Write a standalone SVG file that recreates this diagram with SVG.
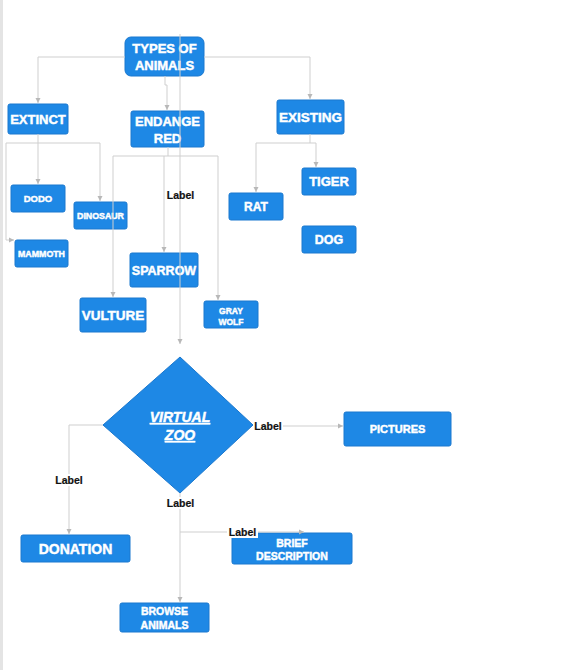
<svg xmlns="http://www.w3.org/2000/svg" width="565" height="670" viewBox="0 0 565 670">
<defs>
<marker id="ar" markerWidth="6" markerHeight="6" refX="5" refY="3" orient="auto" markerUnits="userSpaceOnUse">
<path d="M0,0.5 L5,3 L0,5.5 Z" fill="#b8b8b8"/>
</marker>
<style>
.n{fill:#1e88e5;stroke:#1a78cf;stroke-width:1}
.t{font-family:"Liberation Sans",Arial,sans-serif;font-weight:bold;fill:#ffffff;stroke:#ffffff;stroke-width:0.45;text-anchor:middle}
.c{fill:none;stroke:#cfcfcf;stroke-width:1;marker-end:url(#ar)}
.lb{font-family:"Liberation Sans",Arial,sans-serif;font-weight:bold;font-size:10.5px;fill:#111111;stroke:#111111;stroke-width:0.2;text-anchor:middle}
</style>
</defs>
<rect x="0" y="0" width="565" height="670" fill="#ffffff"/>
<rect x="0" y="0" width="3" height="670" fill="#e4e4e4"/>

<g id="types"><rect class="n" x="125" y="37" width="79" height="39" rx="6"/><text class="t" font-size="13" x="164.5" y="53">TYPES OF</text><text class="t" font-size="13" x="164.5" y="70">ANIMALS</text></g>
<g id="extinct"><rect class="n" x="8" y="104" width="60" height="30" rx="2"/><text class="t" font-size="13" x="38" y="123.5">EXTINCT</text></g>
<g id="endangered"><rect class="n" x="131" y="111" width="73" height="36" rx="2"/><text class="t" font-size="13" x="167.5" y="126">ENDANGE</text><text class="t" font-size="13" x="167.5" y="143">RED</text></g>
<g id="existing"><rect class="n" x="277" y="100" width="67" height="34" rx="2"/><text class="t" font-size="13.5" x="310.5" y="122">EXISTING</text></g>
<g id="dodo"><rect class="n" x="11" y="185" width="54" height="27" rx="2"/><text class="t" font-size="9.5" x="38" y="202">DODO</text></g>
<g id="dinosaur"><rect class="n" x="74" y="202" width="53" height="27" rx="2"/><text class="t" font-size="8.8" x="100.5" y="219">DINOSAUR</text></g>
<g id="mammoth"><rect class="n" x="15" y="240" width="53" height="27" rx="2"/><text class="t" font-size="8.8" x="41.5" y="257">MAMMOTH</text></g>
<g id="sparrow"><rect class="n" x="130" y="253" width="68" height="34" rx="2"/><text class="t" font-size="12.5" x="164" y="274.5">SPARROW</text></g>
<g id="vulture"><rect class="n" x="80" y="298" width="66" height="34" rx="2"/><text class="t" font-size="13.5" x="113" y="320">VULTURE</text></g>
<g id="graywolf"><rect class="n" x="204" y="301" width="54" height="27" rx="2"/><text class="t" font-size="8.5" x="231" y="313.5">GRAY</text><text class="t" font-size="8.5" x="231" y="324.5">WOLF</text></g>
<g id="rat"><rect class="n" x="229" y="193" width="54" height="27" rx="2"/><text class="t" font-size="12" x="256" y="211">RAT</text></g>
<g id="tiger"><rect class="n" x="302" y="168" width="54" height="27" rx="2"/><text class="t" font-size="13" x="329" y="186">TIGER</text></g>
<g id="dog"><rect class="n" x="302" y="226" width="54" height="27" rx="2"/><text class="t" font-size="12.5" x="329" y="244">DOG</text></g>
<g id="virtualzoo"><polygon class="n" points="180,357 253,425 180,493 103,425"/>
<text class="t" font-size="14" font-style="italic" text-decoration="underline" x="180" y="422">VIRTUAL</text>
<text class="t" font-size="14" font-style="italic" text-decoration="underline" x="180" y="440">ZOO</text></g>
<g id="pictures"><rect class="n" x="344" y="412" width="107" height="34" rx="2"/><text class="t" font-size="11" x="397.5" y="433">PICTURES</text></g>
<g id="donation"><rect class="n" x="21" y="535" width="109" height="27" rx="2"/><text class="t" font-size="14" x="75.5" y="553.5">DONATION</text></g>
<g id="brief"><rect class="n" x="232" y="533" width="120" height="31" rx="2"/><text class="t" font-size="10.5" x="292" y="546.5">BRIEF</text><text class="t" font-size="10.5" x="292" y="560">DESCRIPTION</text></g>
<g id="browse"><rect class="n" x="120" y="603" width="89" height="29" rx="2"/><text class="t" font-size="10.5" x="164.5" y="615">BROWSE</text><text class="t" font-size="10.5" x="164.5" y="629">ANIMALS</text></g>

<g id="connectors">
<path class="c" d="M125,57 H38 V103"/>
<path class="c" d="M204,57 H310 V99"/>
<path class="c" d="M165,76 V85 H167 V110"/>
<path class="c" d="M38,134 V184"/>
<path class="c" d="M38,143 H100 V201"/>
<path class="c" d="M38,143 H6 V240 H14"/>
<path class="c" d="M168,147 V156 H113 V297"/>
<path class="c" d="M168,156 H218 V300"/>
<path class="c" d="M164,156 V252"/>
<path class="c" d="M310,134 V143 H256 V192"/>
<path class="c" d="M310,143 H316 V167"/>
<path class="c" d="M180,34 V344"/>
<path class="c" d="M103,425 H69 V534"/>
<path class="c" d="M253,426 H343"/>
<path class="c" d="M180,493 V602"/>
<path class="c" d="M180,532 H304"/>
<text class="lb" x="180.5" y="199">Label</text>
<rect x="54" y="474" width="30" height="12" fill="#ffffff"/>
<text class="lb" x="69" y="484">Label</text>
<rect x="253" y="420" width="30" height="12" fill="#ffffff"/>
<text class="lb" x="268" y="430">Label</text>
<rect x="165" y="497" width="30" height="12" fill="#ffffff"/>
<text class="lb" x="180.5" y="507">Label</text>
<rect x="227" y="526" width="31" height="12" fill="#ffffff"/>
<text class="lb" x="242.5" y="536">Label</text>
</g>
</svg>
